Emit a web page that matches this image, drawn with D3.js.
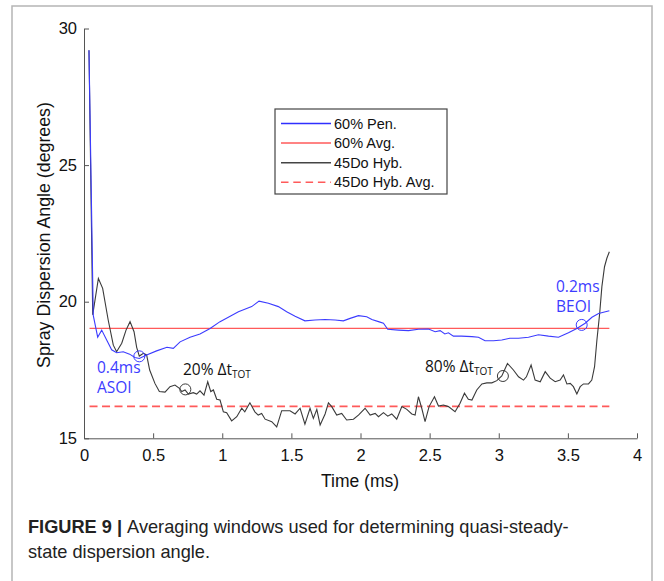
<!DOCTYPE html>
<html><head><meta charset="utf-8">
<script src="https://cdn.jsdelivr.net/npm/d3@7"></script>
<style>body{margin:0;background:#fff}svg{display:block}</style>
</head><body>
<svg id="chart" width="664" height="581"></svg>
<script>
// ---- data ----
const xTicks = [0, 0.5, 1, 1.5, 2, 2.5, 3, 3.5, 4];
const yTicks = [15, 20, 25, 30];
const penTime = [0.036,0.067,0.099,0.128,0.164,0.2,0.236,0.284,0.33,0.368,0.40,0.453,0.525,0.6,0.646,0.695,0.767,0.839,0.912,0.984,1.044,1.117,1.163,1.213,1.266,1.334,1.406,1.466,1.527,1.598,1.671,1.744,1.816,1.876,1.925,1.985,2.045,2.082,2.13,2.166,2.197,2.275,2.347,2.419,2.492,2.54,2.576,2.61,2.636,2.672,2.73,2.806,2.853,2.901,2.962,3.022,3.08,3.143,3.215,3.287,3.36,3.432,3.504,3.565,3.625,3.674,3.722,3.80];
const penAngle = [29.2,19.5,18.7,18.96,18.6,18.24,18.13,18.17,18.08,17.96,17.92,18.05,18.2,18.33,18.29,18.53,18.7,18.82,19.02,19.27,19.43,19.63,19.72,19.82,20.02,19.94,19.82,19.63,19.47,19.30,19.33,19.35,19.33,19.30,19.39,19.49,19.45,19.35,19.27,19.21,18.99,18.96,18.94,18.99,19.0,18.90,18.94,18.82,18.86,18.74,18.74,18.72,18.70,18.57,18.57,18.6,18.66,18.66,18.7,18.79,18.74,18.7,18.86,19.02,19.21,19.43,19.57,19.67];
const hybTime = [0.036,0.063,0.104,0.135,0.175,0.212,0.236,0.273,0.304,0.333,0.362,0.381,0.40,0.43,0.453,0.475,0.513,0.545,0.586,0.622,0.658,0.69,0.707,0.731,0.755,0.791,0.815,0.839,0.868,0.895,0.917,0.936,0.96,0.984,1.008,1.032,1.068,1.105,1.141,1.163,1.2,1.236,1.26,1.285,1.31,1.358,1.394,1.43,1.49,1.527,1.563,1.598,1.635,1.659,1.684,1.708,1.744,1.768,1.792,1.828,1.864,1.9,1.949,1.985,2.033,2.07,2.106,2.13,2.166,2.197,2.226,2.262,2.299,2.335,2.371,2.395,2.419,2.443,2.467,2.496,2.535,2.564,2.6,2.636,2.684,2.72,2.752,2.78,2.806,2.841,2.878,2.914,2.95,2.986,3.022,3.063,3.106,3.143,3.179,3.2,3.234,3.263,3.3,3.336,3.372,3.408,3.444,3.468,3.493,3.517,3.54,3.565,3.589,3.613,3.649,3.673,3.693,3.71,3.73,3.746,3.765,3.782,3.80];
const hybAngle = [29.2,19.52,20.85,20.49,19.33,18.41,18.17,18.48,18.96,19.27,18.9,18.33,18.01,18.11,18.05,17.5,17.01,16.71,16.69,16.89,16.95,16.83,16.71,16.77,16.62,16.67,16.62,16.74,16.58,17.07,16.71,16.77,16.43,16.4,15.97,15.94,15.64,15.79,16.1,15.97,16.3,15.97,15.85,15.91,15.7,15.61,15.42,16.01,16.01,15.89,16.1,15.52,16.1,15.73,16.06,15.49,15.89,16.3,16.16,15.85,15.91,15.67,15.7,15.85,16.1,15.85,15.91,15.79,15.94,15.81,15.89,15.70,16.16,16.06,15.89,15.85,16.52,16.1,15.61,16.16,16.52,16.18,16.22,16.16,15.97,16.28,16.65,16.43,16.4,16.77,16.99,17.03,17.03,17.11,17.28,17.74,17.5,17.25,17.13,17.25,17.68,17.13,17.07,17.44,17.2,17.07,17.13,17.32,16.99,17.01,16.89,16.62,16.89,16.99,16.99,17.13,17.62,18.6,19.57,20.55,21.28,21.59,21.83];
const penAvg = 19.02;
const hybAvg = 16.17;
const avgRange = [0.04, 3.8];
const legendLabels = ["60% Pen.", "60% Avg.", "45Do Hyb.", "45Do Hyb. Avg."];
const markers = [
  {t: 0.40, v: 18.0, c: "blue"},
  {t: 0.733, v: 16.79, c: "black"},
  {t: 3.03, v: 17.28, c: "black"},
  {t: 3.60, v: 19.15, c: "blue"}
];

// ---- drawing ----
const svg = d3.select("#chart");
const C_BLUE = "#3c3cff", C_RED = "#ff5a5a", C_BLACK = "#3a3a3a";
const x = d3.scaleLinear().domain([0, 4]).range([84, 637]);
const y = d3.scaleLinear().domain([15, 30]).range([438.3, 28.5]);
const F = "Liberation Sans, Arial, sans-serif";
const F2 = "'Open Sans', sans-serif";

// outer frame
svg.append("rect").attr("x", 12).attr("y", 6).attr("width", 640).attr("height", 600)
  .attr("fill", "none").attr("stroke", "#b5b5b5").attr("stroke-width", 1.5);

// axes
const xAxis = svg.append("g").attr("transform", `translate(0,${y(15)})`)
  .call(d3.axisBottom(x).tickValues(xTicks).tickSizeInner(-5).tickSizeOuter(0).tickPadding(11)
    .tickFormat(d => d));
const yAxis = svg.append("g").attr("transform", `translate(${x(0)},0)`)
  .call(d3.axisLeft(y).tickValues(yTicks).tickSizeInner(-5).tickSizeOuter(0).tickPadding(7));
[xAxis, yAxis].forEach(g => {
  g.select(".domain").attr("stroke", "#555");
  g.selectAll(".tick line").attr("stroke", "#555");
  g.selectAll(".tick text").attr("font-family", F).attr("font-size", 16.5).attr("fill", "#111");
});

svg.append("text").attr("x", 360).attr("y", 487).attr("text-anchor", "middle")
  .attr("font-family", F).attr("font-size", 17.5).attr("fill", "#111").text("Time (ms)");
svg.append("text").attr("transform", "translate(50,235) rotate(-90)").attr("text-anchor", "middle")
  .attr("font-family", F).attr("font-size", 17.8).attr("fill", "#111").text("Spray Dispersion Angle (degrees)");

// avg lines
svg.append("line").attr("x1", x(avgRange[0])).attr("x2", x(avgRange[1]))
  .attr("y1", y(penAvg)).attr("y2", y(penAvg)).attr("stroke", C_RED).attr("stroke-width", 1.2);
svg.append("line").attr("x1", x(avgRange[0])).attr("x2", x(avgRange[1]))
  .attr("y1", y(hybAvg)).attr("y2", y(hybAvg)).attr("stroke", C_RED).attr("stroke-width", 1.8)
  .attr("stroke-dasharray", "8,4.5");

const line = d3.line().x(d => x(d[0])).y(d => y(d[1]));
svg.append("path").datum(hybTime.map((t, i) => [t, hybAngle[i]]))
  .attr("d", line).attr("fill", "none").attr("stroke", C_BLACK).attr("stroke-width", 1.1);
svg.append("path").datum(penTime.map((t, i) => [t, penAngle[i]]))
  .attr("d", line).attr("fill", "none").attr("stroke", C_BLUE).attr("stroke-width", 1.1);

// markers
markers.forEach(m => {
  svg.append("circle").attr("cx", x(m.t)).attr("cy", y(m.v)).attr("r", 5.5)
    .attr("fill", "none").attr("stroke", m.c === "blue" ? C_BLUE : C_BLACK).attr("stroke-width", 1);
});

// annotations
function ann(tx, ty, txt, col) {
  svg.append("text").attr("x", tx).attr("y", ty).attr("font-family", F2).attr("font-size", 15.5)
    .attr("fill", col).text(txt);
}
ann(97, 373, "0.4ms", C_BLUE);
ann(97, 393, "ASOI", C_BLUE);
ann(556, 292, "0.2ms", C_BLUE);
ann(556, 312, "BEOI", C_BLUE);
function dt(tx, ty, pct) {
  const t = svg.append("text").attr("x", tx).attr("y", ty).attr("font-family", F2).attr("font-size", 15.5).attr("fill", "#111");
  t.append("tspan").text(pct + " \u0394t");
  t.append("tspan").attr("dy", 3).attr("font-size", 10).text("TOT");
}
dt(183, 375, "20%");
dt(425, 372, "80%");

// legend
const lg = svg.append("g");
lg.append("rect").attr("x", 275).attr("y", 109).attr("width", 172).attr("height", 85)
  .attr("fill", "#fff").attr("stroke", "#444").attr("stroke-width", 1.2);
const lstyles = [
  {c: "#2f2fff", w: 1.5, d: null},
  {c: C_RED, w: 1.5, d: null},
  {c: "#444", w: 1.5, d: null},
  {c: C_RED, w: 1.6, d: "7.5,4.8"}
];
legendLabels.forEach((lab, i) => {
  const yy = 123.5 + i * 19.6;
  lg.append("line").attr("x1", 281).attr("x2", 331).attr("y1", yy).attr("y2", yy)
    .attr("stroke", lstyles[i].c).attr("stroke-width", lstyles[i].w).attr("stroke-dasharray", lstyles[i].d);
  lg.append("text").attr("x", 334).attr("y", yy + 5).attr("font-family", F).attr("font-size", 14.5)
    .attr("fill", "#111").text(lab);
});

// caption
const cap = svg.append("text").attr("x", 28).attr("y", 533).attr("font-family", F).attr("font-size", 18.2).attr("fill", "#222");
cap.append("tspan").attr("font-weight", "bold").text("FIGURE 9 | ");
cap.append("tspan").text("Averaging windows used for determining quasi-steady-");
svg.append("text").attr("x", 28).attr("y", 558).attr("font-family", F).attr("font-size", 18.2).attr("fill", "#222")
  .text("state dispersion angle.");
</script>
</body></html>
